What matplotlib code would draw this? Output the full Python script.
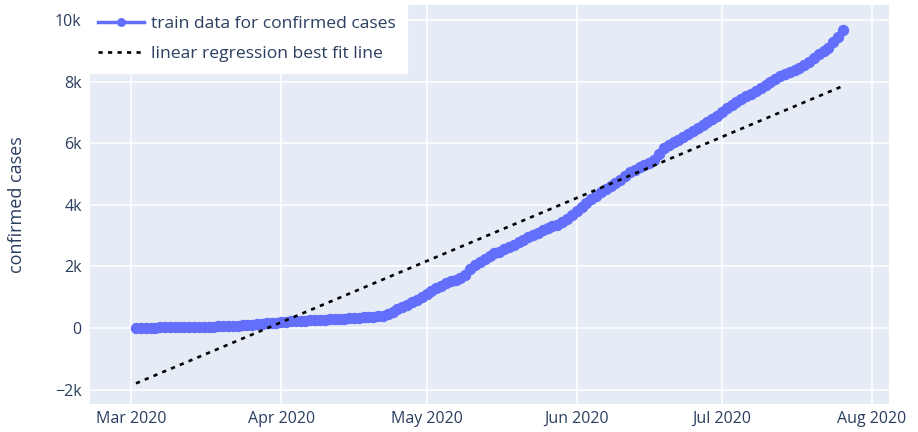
import datetime as dt
import matplotlib
matplotlib.use("Agg")
import matplotlib.pyplot as plt
import matplotlib.dates as mdates
from matplotlib.ticker import FuncFormatter

# daily confirmed cases, 2 Mar 2020 .. 26 Jul 2020
start_day = dt.date(2020, 3, 2)
confirmed = [
    10, 11, 12, 13, 14, 15, 16, 17, 18, 20,
    22, 24, 27, 31, 35, 39, 43, 48, 54, 60,
    68, 77, 86, 97, 110, 122, 135, 148, 162, 176,
    190, 200, 210, 220, 230, 238, 246, 254, 262, 270,
    278, 286, 294, 302, 310, 320, 330, 340, 355, 370,
    385, 400, 450, 520, 600, 675, 750, 830, 910, 1000,
    1100, 1200, 1290, 1370, 1450, 1510, 1570, 1630, 1720, 1900,
    2030, 2150, 2250, 2350, 2420, 2480, 2550, 2620, 2710, 2800,
    2870, 2950, 3030, 3100, 3180, 3250, 3300, 3350, 3450, 3550,
    3680, 3800, 3920, 4050, 4180, 4300, 4400, 4500, 4600, 4700,
    4820, 4930, 5050, 5130, 5220, 5300, 5360, 5450, 5650, 5830,
    5950, 6040, 6110, 6200, 6300, 6400, 6500, 6600, 6700, 6800,
    6900, 7000, 7130, 7250, 7350, 7450, 7530, 7600, 7700, 7800,
    7900, 8000, 8090, 8180, 8240, 8300, 8370, 8450, 8550, 8650,
    8780, 8900, 9000, 9100, 9280, 9450, 9680,
]
dates = [start_day + dt.timedelta(days=i) for i in range(len(confirmed))]

# regression line end points
fit_dates = [dates[0], dates[-1]]
fit_values = [-1800, 7860]

y_ticks = [-2000, 0, 2000, 4000, 6000, 8000, 10000]

txt = "#2a3f5f"
plt.rcParams["font.family"] = ["Open Sans", "DejaVu Sans"]

fig = plt.figure(figsize=(9.18, 4.32), dpi=100)
ax = fig.add_axes([90 / 918, 1 - 404 / 432, 799 / 918, 399 / 432])
ax.set_facecolor("#E5ECF6")
for s in ax.spines.values():
    s.set_visible(False)
ax.grid(True, color="white", linewidth=1.1)
ax.set_axisbelow(True)

ax.plot(dates, confirmed, color="#636efa", linewidth=2.5, marker="o",
        markersize=7.2, label="train data for confirmed cases")
ax.plot(fit_dates, fit_values, color="black", linewidth=1.9,
        linestyle=(0, (1.6, 2.0)), label="linear regression best fit line")

ax.set_xlim(dt.datetime(2020, 2, 21, 12), dt.datetime(2020, 8, 4, 12))
ax.set_ylim(-2470, 10490)
ax.xaxis.set_major_locator(mdates.MonthLocator())
ax.xaxis.set_major_formatter(mdates.DateFormatter("%b %Y"))
ax.set_yticks(y_ticks)
ax.yaxis.set_major_formatter(FuncFormatter(
    lambda v, p: "0" if v == 0 else ("\u2212" if v < 0 else "") + f"{abs(v)/1000:g}k"))
ax.tick_params(length=0, labelsize=11.5, labelcolor=txt)
ax.tick_params(axis="y", pad=6)
ax.tick_params(axis="x", pad=5)
ax.set_ylabel("confirmed cases", fontsize=13, color=txt, labelpad=21)

leg = ax.legend(loc="upper left", bbox_to_anchor=(-0.003, 1.0), fontsize=12.6,
                frameon=True, fancybox=False, framealpha=1, edgecolor="white",
                handlelength=2.6, handletextpad=0.45, borderpad=0.6,
                labelspacing=0.8, borderaxespad=0, markerscale=0.75)
for t in leg.get_texts():
    t.set_color(txt)

fig.savefig("out.png", dpi=100)
